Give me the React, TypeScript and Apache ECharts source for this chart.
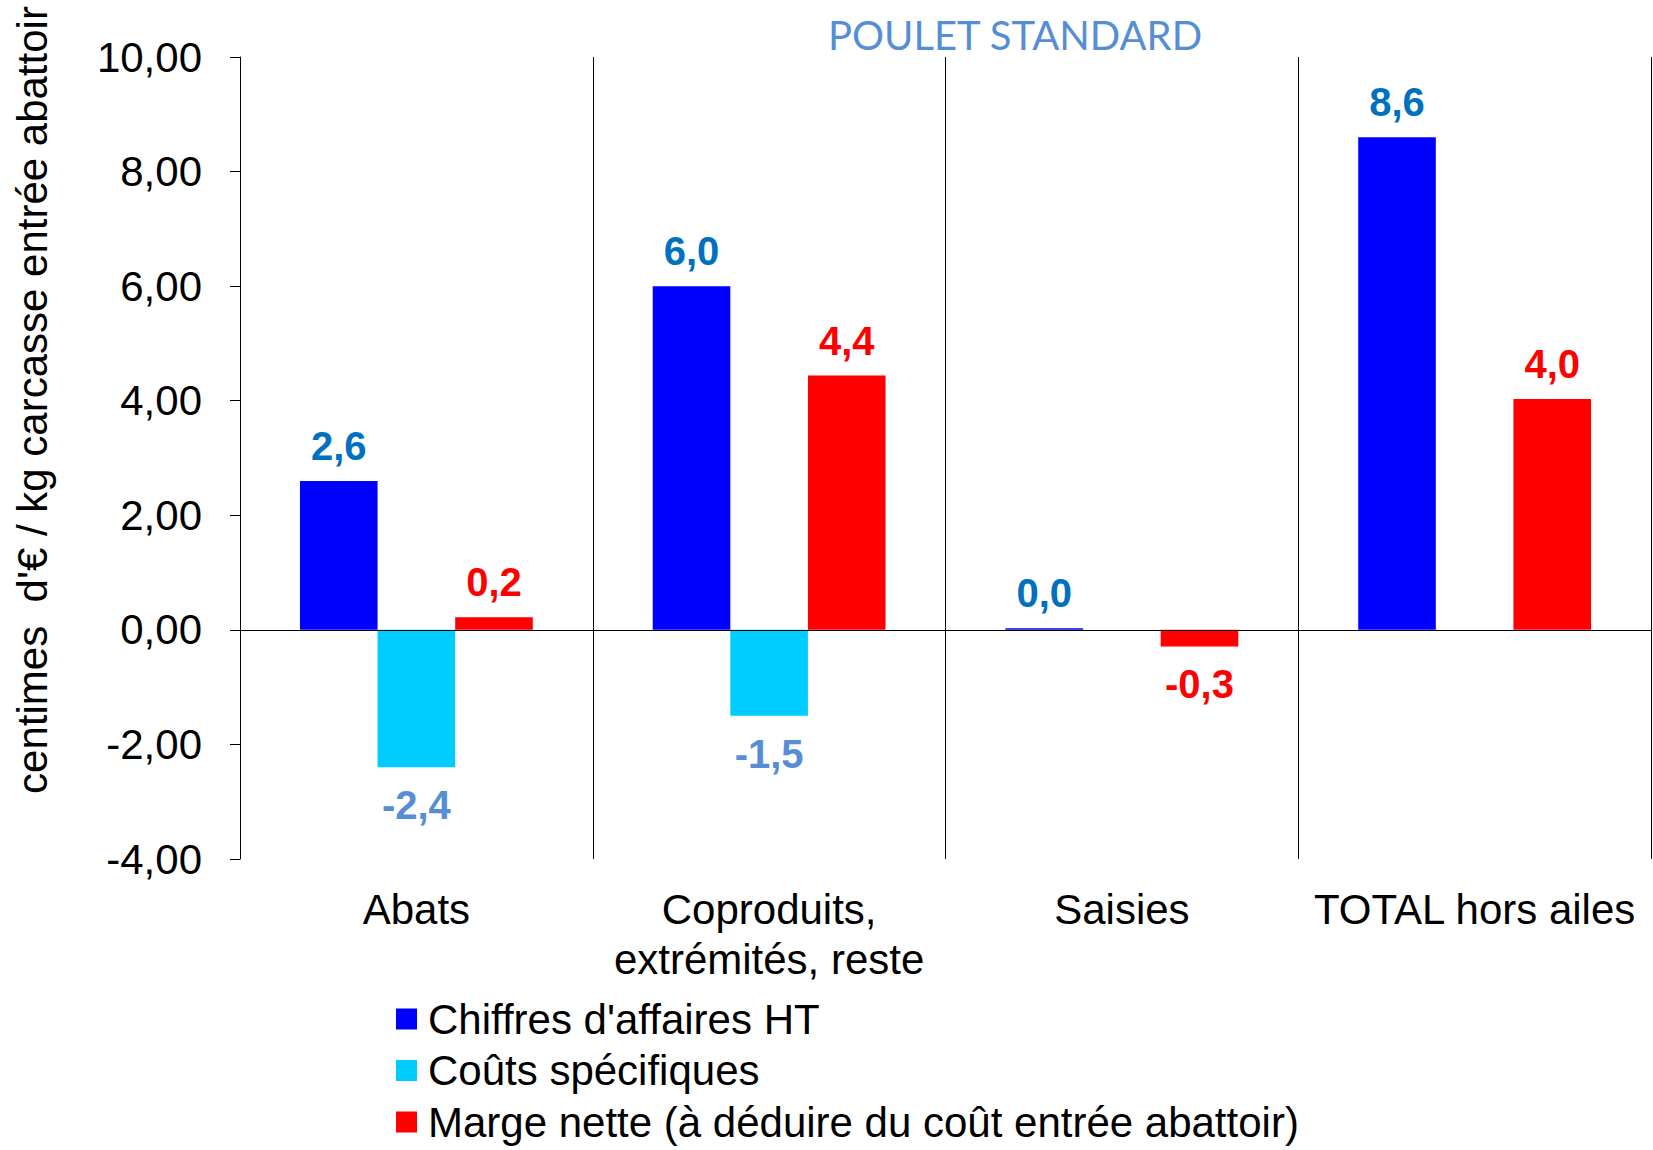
import React, { useEffect, useRef } from "react";
import * as echarts from "echarts";

const categories = ["Abats", "Coproduits,\nextrémités, reste", "Saisies", "TOTAL hors ailes"];
const seriesNames = [
  "Chiffres d'affaires HT",
  "Coûts spécifiques",
  "Marge nette (à déduire du coût entrée abattoir)",
];
const chiffresAffaires = [2.6, 6.0, 0.03, 8.6];
const coutsSpecifiques = [-2.4, -1.5, null, null];
const margeNette = [0.22, 4.44, -0.29, 4.03];
const yTicks = { min: -4, max: 10, interval: 2 };

const barColors = ["#0000FF", "#00CCFF", "#FF0000"];
const labelColors = ["#0070C0", "#558ED5", "#FF0000"];

const fmt1 = (v: number) => v.toFixed(1).replace(".", ",");
const fmt2 = (v: number) => v.toFixed(2).replace(".", ",");

export default function App() {
  const ref = useRef<HTMLDivElement>(null);
  useEffect(() => {
    document.body.style.margin = "0";
    const chart = echarts.init(ref.current!, null, { renderer: "svg" });
    const allData = [chiffresAffaires, coutsSpecifiques, margeNette];
    const series = allData.map((arr, i) => ({
      name: seriesNames[i],
      type: "bar",
      barGap: "0%",
      barCategoryGap: "34%",
      itemStyle: { color: barColors[i] },
      data: arr.map((v) =>
        v === null
          ? null
          : {
              value: v,
              label: {
                show: true,
                position: v < 0 ? "bottom" : "top",
                distance: v < 0 ? 18 : 15,
                formatter: () => fmt1(v),
                color: labelColors[i],
                fontSize: 40,
                fontWeight: "bold",
                fontFamily: "Liberation Sans",
              },
            }
      ),
      ...(i === 0
        ? {
            markLine: {
              silent: true,
              symbol: "none",
              label: { show: false },
              lineStyle: { color: "#000", width: 1, type: "solid" },
              data: [{ yAxis: 0 }],
            },
          }
        : {}),
    }));
    const legends = seriesNames.map((name, i) => ({
      orient: "horizontal",
      left: 396,
      top: 998 + i * 51.5,
      padding: 0,
      itemWidth: 21,
      itemHeight: 21,
      icon: "rect",
      textStyle: {
        fontSize: 42,
        lineHeight: 42,
        color: "#000",
        padding: [0, 0, 0, 6],
        fontFamily: "Liberation Sans",
      },
      data: [name],
    }));
    chart.setOption({
      animation: false,
      backgroundColor: "#fff",
      textStyle: { fontFamily: "Liberation Sans" },
      grid: { left: 240, right: 2, top: 57, bottom: 291, containLabel: false },
      title: {
        text: "POULET STANDARD",
        left: 1010,
        top: 10,
        textAlign: "center",
        textStyle: { color: "#558ED5", fontSize: 40, fontWeight: "normal", fontFamily: "Lato" },
      },
      legend: legends,
      graphic: [
        {
          type: "text",
          x: 32,
          y: 400,
          rotation: Math.PI / 2,
          style: {
            text: "centimes  d'€ / kg carcasse entrée abattoir",
            fontSize: 42,
            fontFamily: "Liberation Sans",
            fill: "#000",
            textAlign: "center",
            textVerticalAlign: "middle",
          },
        },
      ],
      xAxis: {
        type: "category",
        data: categories,
        axisLine: { show: false, onZero: false },
        axisTick: { show: false },
        splitLine: { show: true, lineStyle: { color: "#000", width: 1 } },
        axisLabel: {
          fontSize: 42,
          color: "#000",
          margin: 25,
          lineHeight: 50,
          interval: 0,
          fontFamily: "Liberation Sans",
        },
      },
      yAxis: {
        type: "value",
        min: yTicks.min,
        max: yTicks.max,
        interval: yTicks.interval,
        axisLine: { show: true, lineStyle: { color: "#000", width: 1 } },
        axisTick: { show: true, length: 10, lineStyle: { color: "#000" } },
        splitLine: { show: false },
        axisLabel: {
          fontSize: 42,
          color: "#000",
          margin: 38,
          formatter: (v: number) => fmt2(v),
          fontFamily: "Liberation Sans",
        },
      },
      series,
    });
    return () => chart.dispose();
  }, []);
  return <div ref={ref} style={{ width: 1653, height: 1150 }} />;
}
